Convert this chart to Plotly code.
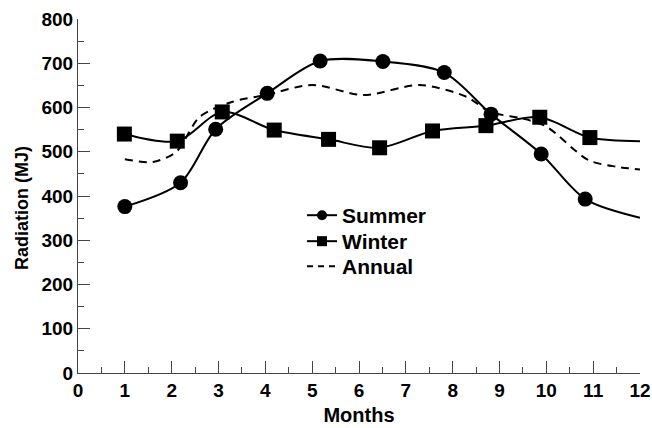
import plotly.graph_objects as go

# Data
summer_x = [1.00, 2.19, 2.94, 4.04, 5.17, 6.51, 7.82, 8.82, 9.89, 10.83]
summer_y = [376, 430, 551, 632, 705, 704, 679, 585, 495, 393]
summer_end_x = 12.0
summer_end_y = 351

winter_x = [0.99, 2.12, 3.08, 4.19, 5.35, 6.44, 7.57, 8.71, 9.86, 10.93]
winter_y = [540, 524, 590, 549, 528, 509, 547, 559, 578, 532]
winter_end_x = 12.0
winter_end_y = 524

annual_x = [1.0, 1.6, 2.1, 2.6, 3.3, 4.0, 5.0, 6.1, 7.3, 8.3, 8.8, 9.5, 10.0, 10.9, 11.5, 12.0]
annual_y = [483, 477, 500, 579, 613, 628, 651, 628, 651, 624, 590, 575, 557, 481, 466, 460]

x_ticks = list(range(0, 13))
y_ticks = list(range(0, 801, 100))

FONT = "Liberation Sans"
fig = go.Figure()

fig.add_trace(go.Scatter(
    x=summer_x + [summer_end_x], y=summer_y + [summer_end_y],
    mode="lines+markers", line=dict(color="black", width=2, shape="spline", smoothing=0.85),
    marker=dict(symbol="circle", size=[15] * len(summer_x) + [0], color="black",
                opacity=1, line=dict(width=0)),
    showlegend=False, hoverinfo="skip"))
fig.add_trace(go.Scatter(
    x=winter_x + [winter_end_x], y=winter_y + [winter_end_y],
    mode="lines+markers", line=dict(color="black", width=2, shape="spline", smoothing=0.85),
    marker=dict(symbol="square", size=[15] * len(winter_x) + [0], color="black",
                opacity=1, line=dict(width=0)),
    showlegend=False, hoverinfo="skip"))
fig.add_trace(go.Scatter(
    x=annual_x, y=annual_y,
    mode="lines", line=dict(color="black", width=2, shape="spline", smoothing=0.8, dash="8px,6px"),
    showlegend=False, hoverinfo="skip"))

# Legend entries (one legend per row for exact row spacing)
fig.add_trace(go.Scatter(x=[None], y=[None], name="Summer", mode="lines+markers",
                         line=dict(color="black", width=2), legend="legend",
                         marker=dict(symbol="circle", size=10, color="black")))
fig.add_trace(go.Scatter(x=[None], y=[None], name="Winter", mode="lines+markers",
                         line=dict(color="black", width=2), legend="legend2",
                         marker=dict(symbol="square", size=10, color="black")))
fig.add_trace(go.Scatter(x=[None], y=[None], name="Annual", mode="lines",
                         line=dict(color="black", width=2, dash="6px,5px"), legend="legend3"))

axis_common = dict(
    showgrid=False, zeroline=False, showline=True, linecolor="#444", linewidth=1,
    ticks="inside", ticklen=12, tickwidth=1, tickcolor="#444", automargin=False,
    tickfont=dict(family=FONT, size=19, color="black", weight="bold"),
)

fig.update_xaxes(
    range=[0, 12], tickvals=x_ticks, ticktext=[str(v) for v in x_ticks],
    minor=dict(ticks="inside", ticklen=6, tickwidth=1, tickcolor="#444", dtick=0.5, tick0=0),
    title=dict(text="Months", font=dict(family=FONT, size=20, color="black", weight="bold"), standoff=8),
    ticklabelstandoff=0,
    **axis_common)
fig.update_yaxes(
    range=[0, 800], tickvals=y_ticks, ticktext=[str(v) for v in y_ticks],
    minor=dict(ticks="inside", ticklen=6, tickwidth=1, tickcolor="#444", dtick=50, tick0=0),
    ticklabelstandoff=0,
    **axis_common)

fig.add_annotation(
    text="Radiation (MJ)", textangle=-90, xref="paper", yref="paper",
    x=-0.0996, y=0.466, xanchor="center", yanchor="middle", showarrow=False,
    font=dict(family=FONT, size=18, color="black", weight="bold"))

legend_common = dict(xanchor="left", yanchor="middle", bgcolor="rgba(0,0,0,0)", borderwidth=0,
                     font=dict(family=FONT, size=21, color="black", weight="bold"))

fig.update_layout(
    width=652, height=428,
    margin=dict(l=78, r=12, t=19, b=55),
    paper_bgcolor="white", plot_bgcolor="white",
    legend=dict(x=0.3986, y=0.4448, **legend_common),
    legend2=dict(x=0.3986, y=0.3714, **legend_common),
    legend3=dict(x=0.3986, y=0.3009, **legend_common),
)

fig.write_html("out.html", config={"displayModeBar": False},
               post_script="document.body.style.margin='0';document.body.style.overflow='hidden';")
